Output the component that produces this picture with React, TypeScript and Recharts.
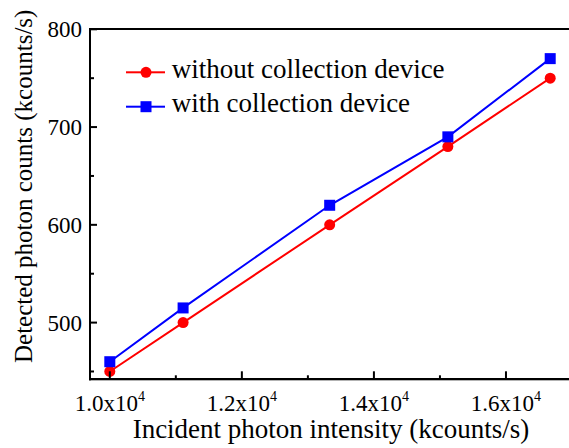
import React from 'react';
import { LineChart, Line, XAxis, YAxis } from 'recharts';

const xValues = [10000, 11110, 13330, 15120, 16670];
const withoutDevice = [450, 500, 600, 680, 750];
const withDevice = [460, 515, 620, 690, 770];
const xTicks = [10000, 11000, 12000, 13000, 14000, 15000, 16000];
const xMajorTicks = [10000, 12000, 14000, 16000];
const yTicks = [450, 500, 550, 600, 650, 700, 750, 800];
const yMajorTicks = [500, 600, 700, 800];
const xDomain = [9700, 17000];
const yDomain = [442, 800];
const seriesNames = ['without collection device', 'with collection device'];
const seriesColors = ['#ff0000', '#0000ff'];
const xTitle = 'Incident photon intensity (kcounts/s)';
const yTitle = 'Detected photon counts (kcounts/s)';

const data = xValues.map((x, i) => ({ x, without: withoutDevice[i], with: withDevice[i] }));

const FONT = '"Liberation Serif", "Times New Roman", serif';

const BottomTick = (props: any) => {
  const { x, y, payload } = props;
  const v = payload.value;
  const major = xMajorTicks.includes(v);
  return (
    <g>
      <rect x={x - 1} y={y - (major ? 8 : 4)} width={2} height={major ? 8 : 4} fill="#000" />
      {major && (
        <text x={x} y={y + 32} textAnchor="middle" fontFamily={FONT} fontSize={23} fill="#000">
          {(v / 10000).toFixed(1)}x10
          <tspan dy={-10} fontSize={14}>4</tspan>
        </text>
      )}
    </g>
  );
};

const TopTick = (props: any) => {
  const { x, y, payload } = props;
  const major = xMajorTicks.includes(payload.value);
  return <rect x={x - 1} y={y} width={2} height={major ? 8 : 4} fill="#000" />;
};

const LeftTick = (props: any) => {
  const { x, y, payload } = props;
  const v = payload.value;
  const major = yMajorTicks.includes(v);
  return (
    <g>
      <rect x={x} y={y - 1} width={major ? 7 : 4} height={2} fill="#000" />
      {major && (
        <text x={x - 8} y={y + 8} textAnchor="end" fontFamily={FONT} fontSize={23} fill="#000">
          {v}
        </text>
      )}
    </g>
  );
};

const RightTick = (props: any) => {
  const { x, y, payload } = props;
  const major = yMajorTicks.includes(payload.value);
  const len = major ? 7 : 4;
  return <rect x={x - len} y={y - 1} width={len} height={2} fill="#000" />;
};

const SquareDot = (props: any) => {
  const { cx, cy } = props;
  if (cx == null || cy == null) return null;
  return <rect x={cx - 5.5} y={cy - 5.5} width={11} height={11} fill="#0000ff" />;
};

const CircleDot = (props: any) => {
  const { cx, cy } = props;
  if (cx == null || cy == null) return null;
  return <circle cx={cx} cy={cy} r={5.5} fill="#ff0000" />;
};

const LegendBox = () => (
  <svg
    width={360}
    height={72}
    style={{ position: 'absolute', left: 126, top: 55, display: 'block', pointerEvents: 'none' }}
  >
    {seriesNames.map((name, i) => {
      const cy = 17.3 + i * 34.4;
      return (
        <g key={name}>
          <rect x={0} y={cy - 1} width={39} height={2} fill={seriesColors[i]} />
          {i === 0 ? (
            <circle cx={20} cy={cy} r={5.5} fill={seriesColors[i]} />
          ) : (
            <rect x={14.5} y={cy - 5.5} width={11} height={11} fill={seriesColors[i]} />
          )}
          <text x={45.7} y={cy + 5.5} fontFamily={FONT} fontSize={27} fill="#000">
            {name}
          </text>
        </g>
      );
    })}
  </svg>
);

// Axis frame bars drawn from each axis' own viewBox
const BottomAxisDecor = (props: any) => {
  const vb = props.viewBox || {};
  const { x = 0, y = 0, width = 0 } = vb;
  return (
    <g>
      <rect x={x - 1} y={y - 1} width={width + 2} height={2} fill="#000" />
      <text x={x + width / 2} y={y + 58.7} textAnchor="middle" fontFamily={FONT} fontSize={27} fill="#000">
        {xTitle}
      </text>
    </g>
  );
};

const TopAxisDecor = (props: any) => {
  const vb = props.viewBox || {};
  const { x = 0, y = 0, width = 0, height = 0 } = vb;
  return <rect x={x - 1} y={y + height - 1} width={width + 2} height={2} fill="#000" />;
};

const LeftAxisDecor = (props: any) => {
  const vb = props.viewBox || {};
  const { x = 0, y = 0, width = 0, height = 0 } = vb;
  const lx = x + width;
  return (
    <g>
      <rect x={lx - 1} y={y - 1} width={2} height={height + 2} fill="#000" />
      <text
        transform={`translate(${lx - 58}, ${y + height / 2 - 18}) rotate(-90)`}
        textAnchor="middle"
        fontFamily={FONT}
        fontSize={25}
        fill="#000"
      >
        {yTitle}
      </text>
    </g>
  );
};

const RightAxisDecor = (props: any) => {
  const vb = props.viewBox || {};
  const { x = 0, y = 0, height = 0 } = vb;
  return <rect x={x - 1} y={y - 1} width={2} height={height + 2} fill="#000" />;
};

export default function App() {
  return (
    <div style={{ position: 'absolute', left: 0, top: 0, width: 569, height: 448, background: '#fff', overflow: 'hidden' }}>
      <LineChart
        width={569}
        height={448}
        data={data}
        margin={{ top: 29.3, right: -3, bottom: 0, left: 0 }}
      >
        <XAxis
          xAxisId="bottom"
          dataKey="x"
          type="number"
          domain={xDomain}
          ticks={xTicks}
          allowDataOverflow
          height={68.7}
          tickSize={0}
          tickMargin={0}
          tickLine={false}
          axisLine={false}
          tick={<BottomTick />}
          interval={0}
          label={<BottomAxisDecor />}
        />
        <XAxis
          xAxisId="top"
          orientation="top"
          dataKey="x"
          type="number"
          domain={xDomain}
          ticks={xTicks}
          allowDataOverflow
          height={0}
          tickSize={0}
          tickMargin={0}
          tickLine={false}
          axisLine={false}
          tick={<TopTick />}
          interval={0}
          label={<TopAxisDecor />}
        />
        <YAxis
          yAxisId="left"
          type="number"
          domain={yDomain}
          ticks={yTicks}
          allowDataOverflow
          width={90}
          tickSize={0}
          tickMargin={0}
          tickLine={false}
          axisLine={false}
          tick={<LeftTick />}
          interval={0}
          label={<LeftAxisDecor />}
        />
        <YAxis
          yAxisId="right"
          orientation="right"
          type="number"
          domain={yDomain}
          ticks={yTicks}
          allowDataOverflow
          width={0}
          tickSize={0}
          tickMargin={0}
          tickLine={false}
          axisLine={false}
          tick={<RightTick />}
          interval={0}
          label={<RightAxisDecor />}
        />
        <Line
          xAxisId="bottom"
          yAxisId="left"
          dataKey="without"
          name={seriesNames[0]}
          stroke={seriesColors[0]}
          strokeWidth={2}
          dot={<CircleDot />}
          activeDot={false}
          isAnimationActive={false}
        />
        <Line
          xAxisId="bottom"
          yAxisId="left"
          dataKey="with"
          name={seriesNames[1]}
          stroke={seriesColors[1]}
          strokeWidth={2}
          dot={<SquareDot />}
          activeDot={false}
          isAnimationActive={false}
        />
      </LineChart>
      <div
        style={{
          position: 'absolute',
          left: 89,
          top: 28.3,
          width: 484,
          height: 352,
          border: '2px solid #000',
          boxSizing: 'border-box',
          pointerEvents: 'none',
        }}
      />
      <LegendBox />
    </div>
  );
}
